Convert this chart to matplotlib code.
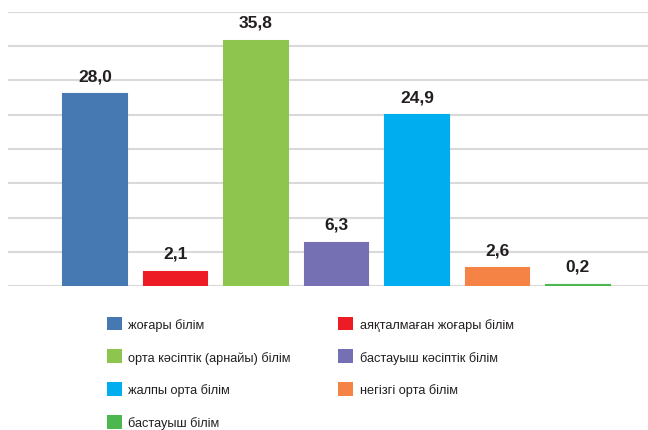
import matplotlib
matplotlib.use("Agg")
import matplotlib.pyplot as plt
from matplotlib.patches import Patch

plt.rcParams["font.family"] = ["Liberation Sans", "DejaVu Sans"]

categories = [
    "жоғары білім",
    "аяқталмаған жоғары білім",
    "орта кәсіптік (арнайы) білім",
    "бастауыш кәсіптік білім",
    "жалпы орта білім",
    "негізгі орта білім",
    "бастауыш білім",
]
values = [28.0, 2.1, 35.8, 6.3, 24.9, 2.6, 0.2]
colors = ["#4679B2", "#ED1C24", "#8DC54F", "#7570B3", "#00AEEF", "#F58345", "#4DB74F"]

fig = plt.figure(figsize=(6.48, 4.31), dpi=100)
W, H = 648, 431
ax = fig.add_axes([8 / W, (H - 287) / H, (648 - 8) / W, (287 - 13) / H])

x = list(range(len(values)))
ax.bar(x, values, width=0.79, color=colors, edgecolor=colors, linewidth=1.5, zorder=3)
for xi, v in zip(x, values):
    ax.annotate(f"{v:.1f}".replace(".", ","), (xi, v), xytext=(0, 8),
                textcoords="offset points", ha="center", va="bottom",
                fontsize=12.5, fontweight="bold", color="#231F20")

ax.set_xlim(-1.08, 6.87)
ax.set_ylim(0, 40)
ax.set_yticks(range(0, 41, 5))
ax.grid(axis="y", color="#D9D9D9", linewidth=1.5, zorder=0)
ax.tick_params(left=False, bottom=False, labelleft=False, labelbottom=False)
for s in ax.spines.values():
    s.set_visible(False)

handles = [Patch(facecolor=c, edgecolor="none") for c in colors]
order = [0, 2, 4, 6, 1, 3, 5]
fig.legend([handles[i] for i in order], [categories[i] for i in order],
           ncol=2, loc="upper left", bbox_to_anchor=(95 / W, 1 - 306 / H),
           frameon=False, fontsize=9.2, handlelength=1.2, handleheight=1.3,
           handletextpad=0.5, columnspacing=3.7, labelspacing=1.45,
           labelcolor="#231F20")

fig.savefig("out.png", dpi=100, facecolor="white")
